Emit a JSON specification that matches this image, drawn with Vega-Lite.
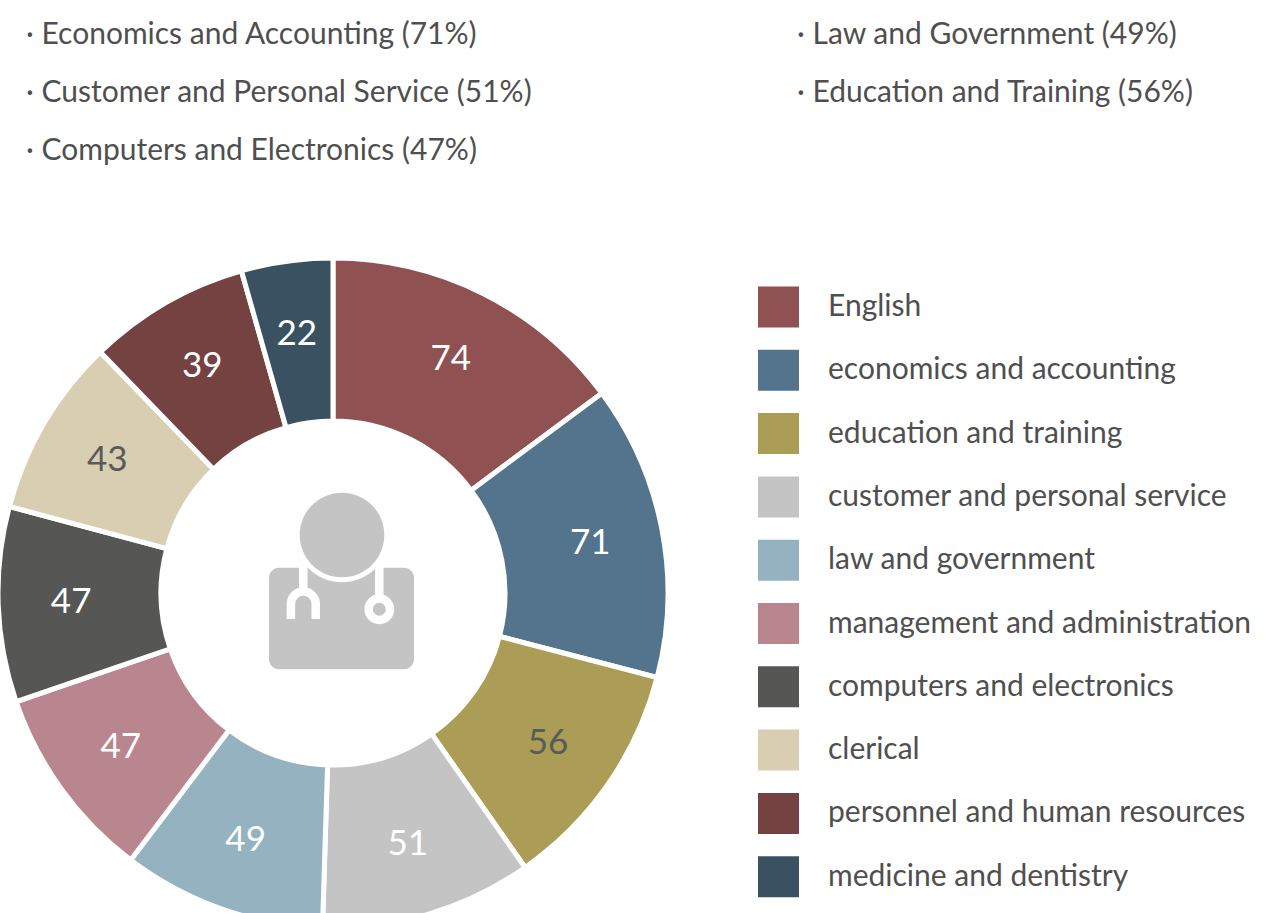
{
  "$schema": "https://vega.github.io/schema/vega-lite/v6.json",
  "padding": {"left": 0, "top": 260, "right": 615, "bottom": -13},
  "autosize": {"type": "none"},
  "background": "white",
  "width": 666,
  "height": 666,
  "config": {"view": {"stroke": null}, "text": {"font": "Lato"}},
  "layer": [
    {
      "data": {"name": "skills", "values": [
        {"skill": "English", "value": 74, "order": 1},
        {"skill": "economics and accounting", "value": 71, "order": 2},
        {"skill": "education and training", "value": 56, "order": 3},
        {"skill": "customer and personal service", "value": 51, "order": 4},
        {"skill": "law and government", "value": 49, "order": 5},
        {"skill": "management and administration", "value": 47, "order": 6},
        {"skill": "computers and electronics", "value": 47, "order": 7},
        {"skill": "clerical", "value": 43, "order": 8},
        {"skill": "personnel and human resources", "value": 39, "order": 9},
        {"skill": "medicine and dentistry", "value": 22, "order": 10}
      ]},
      "mark": {"type": "arc", "outerRadius": 335, "innerRadius": 172, "stroke": "white", "strokeWidth": 5},
      "encoding": {
        "theta": {"field": "value", "type": "quantitative", "stack": true},
        "order": {"field": "order", "type": "ordinal"},
        "color": {
          "field": "skill",
          "type": "nominal",
          "scale": {
            "domain": ["English", "economics and accounting", "education and training", "customer and personal service", "law and government", "management and administration", "computers and electronics", "clerical", "personnel and human resources", "medicine and dentistry"],
            "range": ["#8F5152", "#53748C", "#AB9D56", "#C4C4C4", "#94B2BF", "#B98690", "#565654", "#D8CFB2", "#744240", "#3A5161"]
          },
          "legend": {
            "orient": "none",
            "legendX": 758,
            "legendY": 26.5,
            "title": null,
            "padding": 0,
            "symbolType": "square",
            "symbolSize": 1681,
            "symbolStrokeWidth": 0,
            "symbolOpacity": 1,
            "labelFont": "Lato",
            "labelFontSize": 30,
            "labelColor": "#4f4f4f",
            "labelOffset": 29,
            "labelLimit": 500,
            "rowPadding": 22.3,
            "columns": 1
          }
        }
      }
    },
    {
      "data": {"name": "skills"},
      "mark": {"type": "text", "radius": 262, "font": "Lato", "fontSize": 35, "align": "center", "baseline": "middle"},
      "encoding": {
        "theta": {"field": "value", "type": "quantitative", "stack": true},
        "order": {"field": "order", "type": "ordinal"},
        "text": {"field": "value", "type": "quantitative"},
        "color": {
          "condition": {"test": "datum.skill === 'education and training' || datum.skill === 'clerical'", "value": "#5a5a58"},
          "value": "#ffffff"
        }
      }
    },
    {
      "data": {"values": [
        {"item": "· Economics and Accounting (71%)", "column": "a", "line": 1},
        {"item": "· Customer and Personal Service (51%)", "column": "a", "line": 2},
        {"item": "· Computers and Electronics (47%)", "column": "a", "line": 3},
        {"item": "· Law and Government (49%)", "column": "b", "line": 1},
        {"item": "· Education and Training (56%)", "column": "b", "line": 2}
      ]},
      "mark": {"type": "text", "align": "left", "baseline": "middle", "font": "Lato", "fontSize": 30, "color": "#4f4f4f"},
      "encoding": {
        "x": {"field": "column", "type": "nominal", "axis": null, "scale": {"type": "point", "padding": 0, "domain": ["a", "b"], "range": [26, 797]}},
        "y": {"field": "line", "type": "ordinal", "axis": null, "scale": {"type": "point", "padding": 0, "domain": [1, 2, 3], "range": [-225, -109]}},
        "text": {"field": "item", "type": "nominal"}
      }
    },
    {
      "data": {"values": [{"icon": "doctor"}]},
      "mark": {"type": "point", "filled": true, "opacity": 1, "size": 4, "color": "#C4C4C4",
        "shape": "M -54 -25.3 L 71 -25.3 A 10 10 0 0 1 81 -15.3 L 81 66.3 A 10 10 0 0 1 71 76.3 L -54 76.3 A 10 10 0 0 1 -64 66.3 L -64 -15.3 A 10 10 0 0 1 -54 -25.3 Z"}
    },
    {
      "data": {"values": [{"icon": "doctor"}]},
      "mark": {"type": "point", "filled": true, "opacity": 1, "size": 4, "color": "#ffffff",
        "shape": "M -38.3 -58 A 47.3 47.3 0 1 1 56.3 -58 A 47.3 47.3 0 1 1 -38.3 -58 Z"}
    },
    {
      "data": {"values": [{"icon": "doctor"}]},
      "mark": {"type": "point", "filled": true, "opacity": 1, "size": 4, "color": "#C4C4C4",
        "shape": "M -33.3 -58 A 42.3 42.3 0 1 1 51.3 -58 A 42.3 42.3 0 1 1 -33.3 -58 Z"}
    },
    {
      "data": {"values": [{"icon": "doctor"}]},
      "mark": {"type": "point", "filled": false, "opacity": 1, "size": 4, "stroke": "#ffffff", "strokeWidth": 8.5,
        "shape": "M -29.7 -26 L -29.7 -1.4 M -42.1 26 L -42.1 11 A 12.4 12.4 0 0 1 -17.3 11 L -17.3 26 M 46.3 -26 L 46.3 5.6 M 35.6 16.3 A 10.7 10.7 0 1 1 57 16.3 A 10.7 10.7 0 1 1 35.6 16.3 Z"}
    }
  ]
}
